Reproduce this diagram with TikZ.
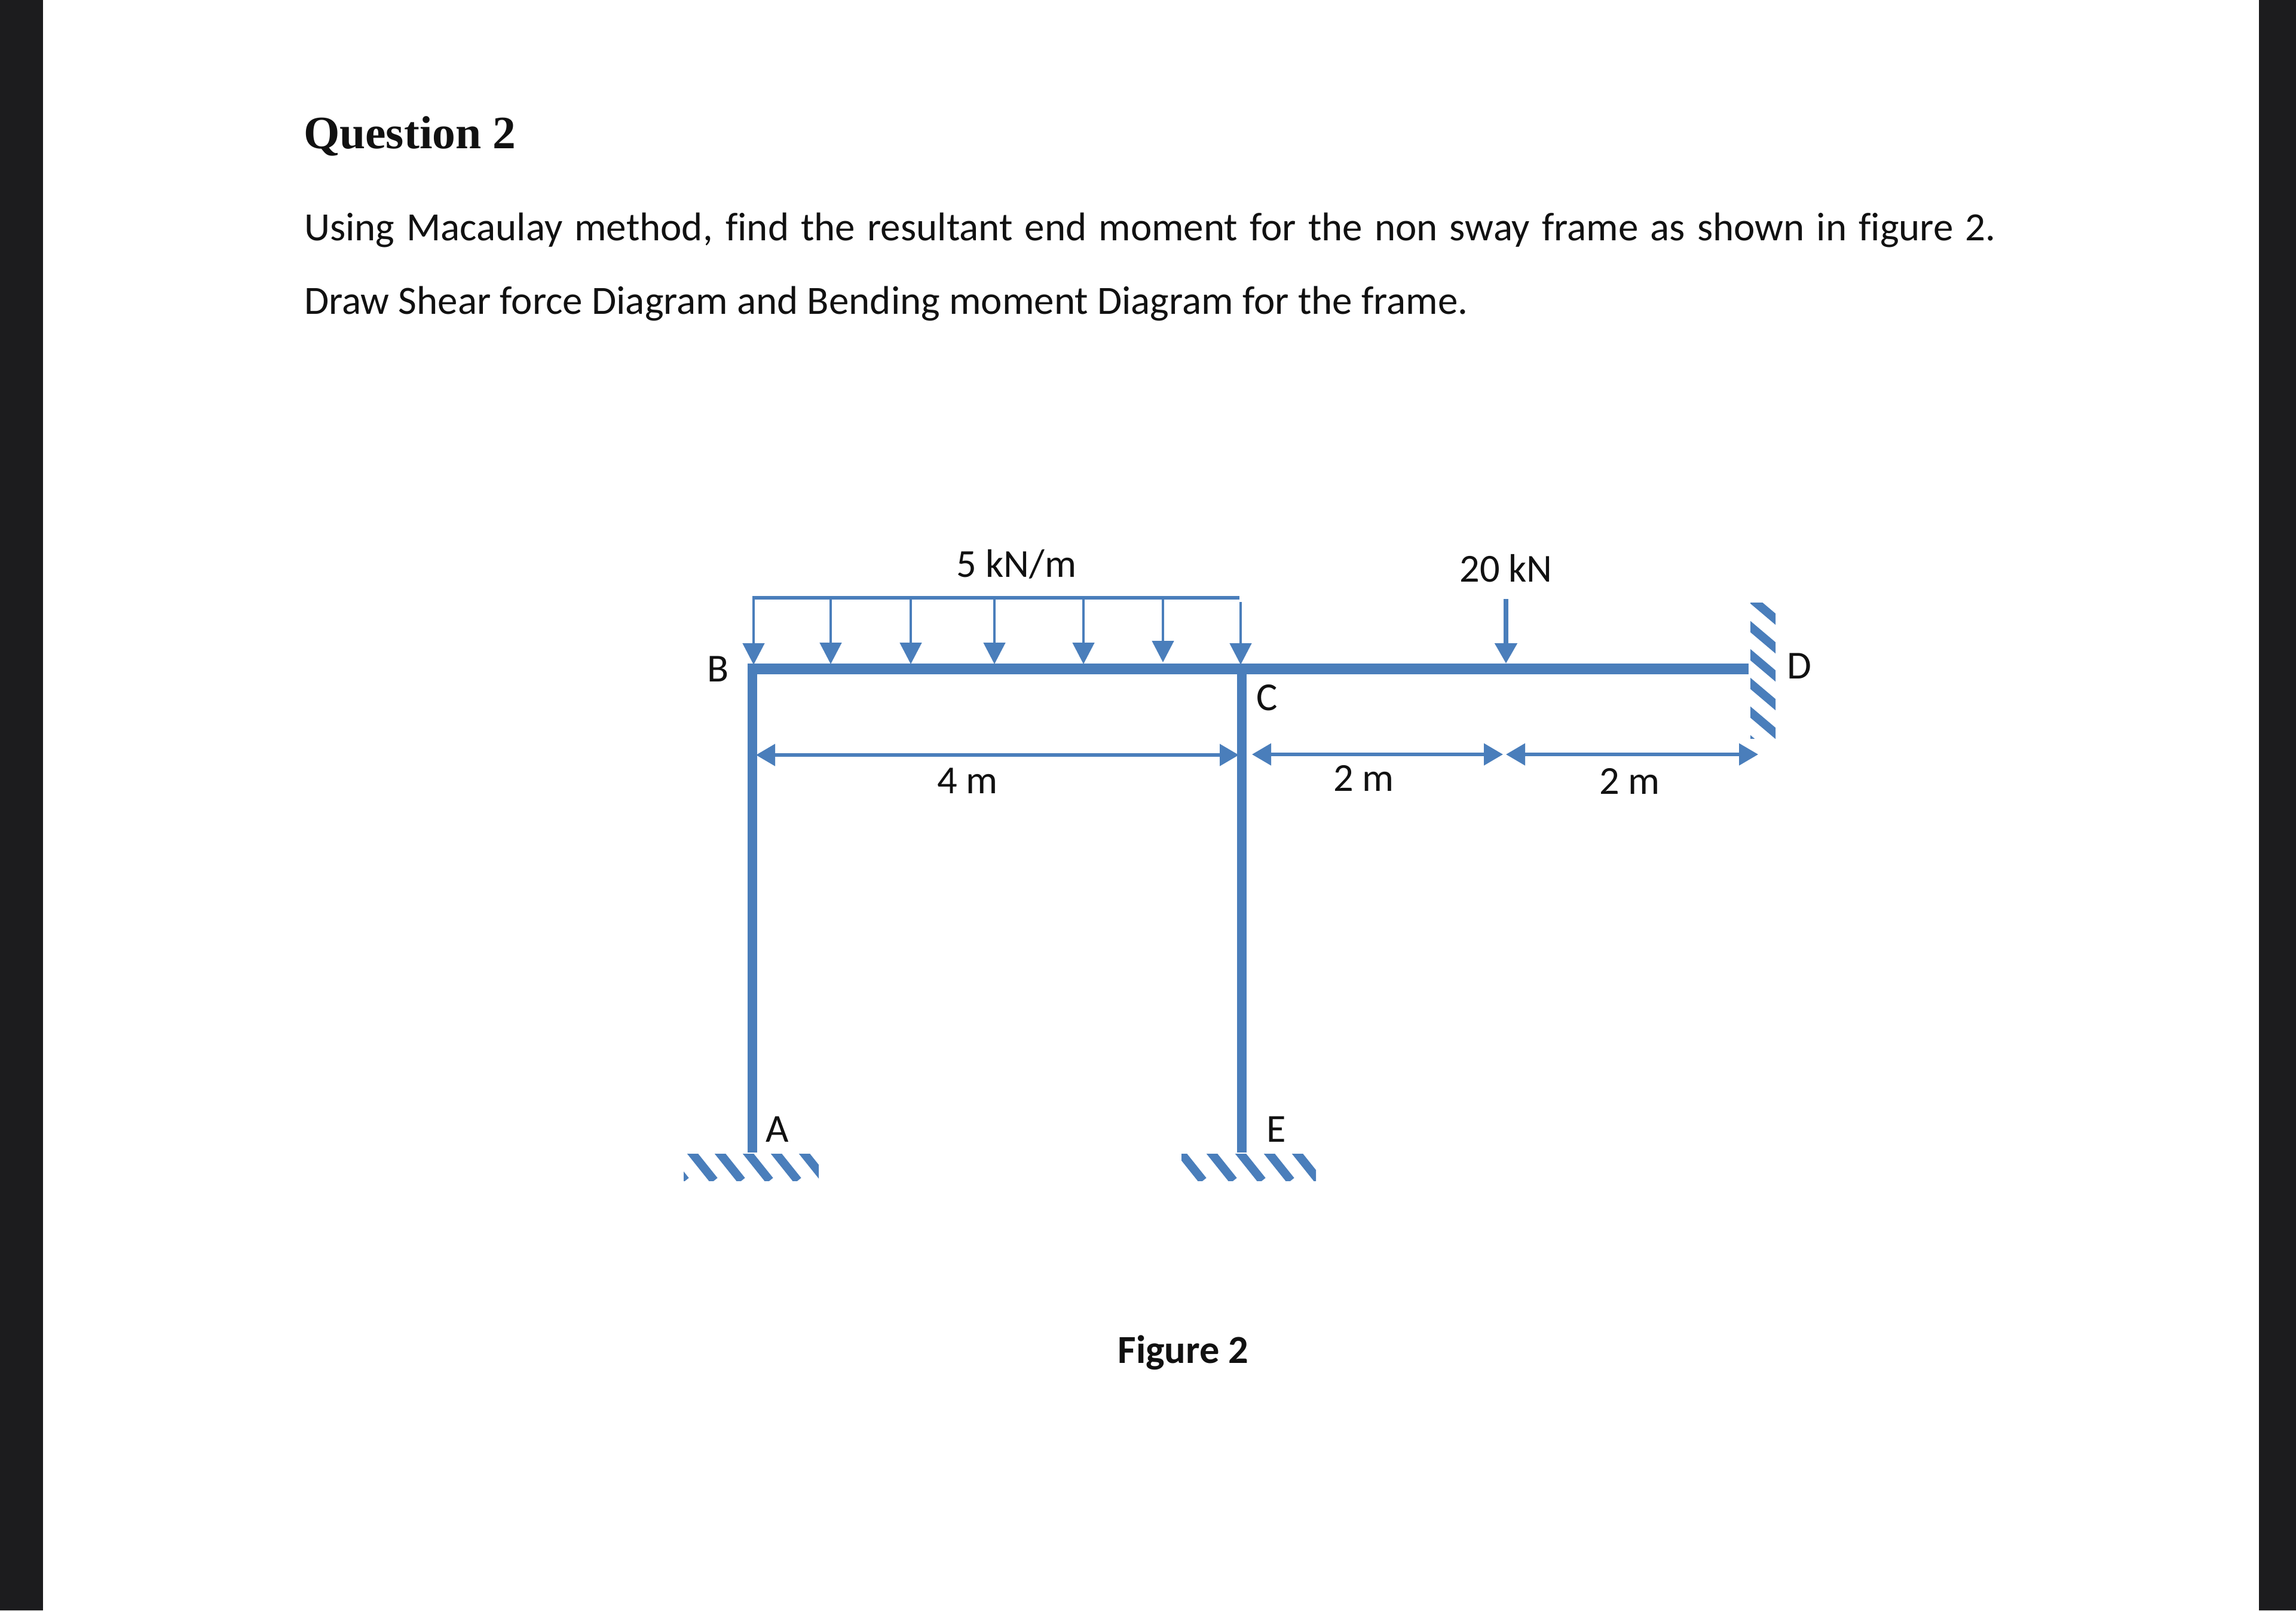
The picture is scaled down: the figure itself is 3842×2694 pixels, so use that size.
\documentclass[tikz,border=0pt]{standalone}
\usepackage{fontspec}
\setmainfont[Ligatures=NoCommon]{Carlito}
\newfontfamily\titlefont{Liberation Serif}
\usetikzlibrary{arrows.meta}
\definecolor{fblue}{HTML}{4A7EBB}
\definecolor{bar}{HTML}{1C1C1E}
\definecolor{ink}{HTML}{111111}
\tikzset{
  x=0.5pt,y=-0.5pt,
  txt/.style={inner sep=0pt,outer sep=0pt,anchor=base west,text=ink,font=\fontsize{33.5}{40}\selectfont},
  lbl/.style={inner sep=0pt,outer sep=0pt,anchor=base,text=ink,font=\fontsize{33.2}{40}\selectfont},
  beamline/.style={draw=fblue,line width=9pt},
  member/.style={draw=fblue,line width=8pt},
  loadline/.style={draw=fblue,line width=2.6pt},
  udl/.style={draw=fblue,line width=2.4pt,-{Triangle[length=18pt,width=18pt]}},
  pointload/.style={draw=fblue,line width=4pt,-{Triangle[length=17pt,width=18pt]}},
  dimarrow/.style={draw=fblue,line width=2.6pt,{Triangle[length=16pt,width=18pt]}-{Triangle[length=16pt,width=18pt]}},
  hatch/.style={draw=fblue,line width=7.2pt},
}
\begin{document}
\begin{tikzpicture}
\useasboundingbox (0,0) rectangle (3842,2694);
\fill[white] (0,0) rectangle (3842,2694);
\fill[bar] (0,0) rectangle (72,2694);
\fill[bar] (3780,0) rectangle (3842,2694);

% texts
\node[txt,font=\titlefont\bfseries\fontsize{38.8}{44}\selectfont] (title) at (508,248) {Question 2};
\node[txt] (line1) at (509,402) {\makebox[1415.5pt][s]{Using Macaulay method, find the resultant end moment for the non sway frame as shown in figure 2.}};
\node[txt] (line2) at (509,525) {Draw Shear force Diagram and Bending moment Diagram for the frame.};

% frame points
\coordinate (B) at (1259,1119);
\coordinate (Bc) at (1251,1119);
\coordinate (C) at (2078,1119);
\coordinate (D) at (2926,1119);
\coordinate (A) at (1259,1928);
\coordinate (E) at (2078,1928);

% supports
\begin{scope}
  \clip (1144,1930) rectangle (1370,1975);
  \foreach \x in {1059,1107,1155,1201,1248,1295,1342}
    \draw[hatch] (\x,1925) -- ++(40,50);
\end{scope}
\begin{scope}
  \clip (1977,1930) rectangle (2202,1975);
  \foreach \x in {1925,1973,2024,2072,2120,2167}
    \draw[hatch] (\x,1925) -- ++(40,50);
\end{scope}
\begin{scope}
  \clip (2929,1008) rectangle (2971,1235);
  \foreach \y in {1000,1048,1095,1143,1191,1239}
    \draw[hatch] (2924,\y-4) -- ++(52,44);
\end{scope}

% members
\draw[member] (B) -- (A);
\draw[member] (C) -- (E);
\draw[beamline] (Bc) -- (D);

% distributed load
\coordinate (L0) at (1259,1000);
\coordinate (L1) at (2074,1000);
\draw[loadline] (L0) -- (L1);
\foreach \n/\x/\ys/\ye in {a/1261/1000/1112,b/1390/1000/1111,c/1524/1000/1111,d/1664/1000/1111,e/1813/1000/1111,f/1946/1000/1108,g/2076/1007/1112}{
  \coordinate (u\n) at (\x,\ys);
  \coordinate (v\n) at (\x,\ye);
  \draw[udl] (u\n) -- (v\n);
}

% point load
\coordinate (P0) at (2520,1002);
\coordinate (P1) at (2520,1110);
\draw[pointload] (P0) -- (P1);

% dimensions
\coordinate (d1) at (1265,1263);
\coordinate (d2) at (2073,1263);
\coordinate (d3) at (2095,1262);
\coordinate (d4) at (2515,1262);
\coordinate (d5) at (2520,1262);
\coordinate (d6) at (2942,1262);
\draw[dimarrow] (d1) -- (d2);
\draw[dimarrow] (d3) -- (d4);
\draw[dimarrow] (d5) -- (d6);

% labels
\node[lbl] (load) at (1701,965) {5 kN/m};
\node[lbl] (force) at (2520,973) {20 kN};
\node[lbl] (lb) at (1202,1140) {B};
\node[lbl] (lc) at (2120,1188) {C};
\node[lbl] (ld) at (3011,1135) {D};
\node[lbl] (la) at (1301,1910) {A};
\node[lbl] (le) at (2136,1910) {E};
\node[lbl] (dim4) at (1619,1327) {4 m};
\node[lbl] (dim2a) at (2282,1323) {2 m};
\node[lbl] (dim2b) at (2727,1328) {2 m};
\node[lbl,font=\bfseries\fontsize{33.2}{40}\selectfont] (fig) at (1980,2280) {Figure 2};
\end{tikzpicture}
\end{document}
